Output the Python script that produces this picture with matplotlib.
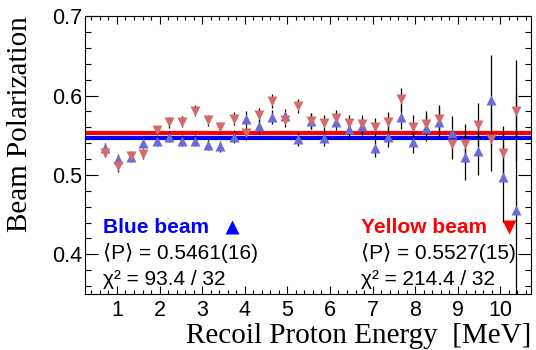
import matplotlib
matplotlib.use("Agg")
from matplotlib import pyplot as plt
from matplotlib.ticker import MultipleLocator

# recoil proton energy bins [MeV]
energy = [0.72, 1.02, 1.32, 1.62, 1.93, 2.23, 2.53, 2.83, 3.13, 3.43, 3.74,
          4.04, 4.34, 4.64, 4.94, 5.24, 5.55, 5.85, 6.15, 6.45, 6.75, 7.05,
          7.36, 7.66, 7.96, 8.26, 8.56, 8.86, 9.17, 9.47, 9.77, 10.07, 10.37]

blue_pol = [0.534, 0.520, 0.522, 0.540, 0.543, 0.548, 0.543, 0.543, 0.538, 0.536, 0.548,
            0.571, 0.561, 0.573, 0.574, 0.545, 0.568, 0.547, 0.567, 0.558, 0.561, 0.534,
            0.548, 0.573, 0.542, 0.559, 0.567, 0.553, 0.522, 0.530, 0.594, 0.497, 0.456]
blue_err = [0.006, 0.006, 0.006, 0.006, 0.006, 0.007, 0.007, 0.007, 0.007, 0.007, 0.008,
            0.009, 0.009, 0.009, 0.009, 0.009, 0.010, 0.010, 0.010, 0.011, 0.011, 0.012,
            0.013, 0.015, 0.015, 0.016, 0.019, 0.021, 0.028, 0.030, 0.057, 0.056, 0.147]

yellow_pol = [0.528, 0.511, 0.524, 0.526, 0.556, 0.566, 0.567, 0.581, 0.569, 0.560, 0.571,
              0.553, 0.575, 0.593, 0.569, 0.587, 0.568, 0.565, 0.572, 0.565, 0.564, 0.560,
              0.566, 0.595, 0.560, 0.564, 0.570, 0.539, 0.539, 0.563, 0.545, 0.528, 0.581]
yellow_err = [0.006, 0.007, 0.006, 0.006, 0.006, 0.007, 0.007, 0.007, 0.007, 0.007, 0.008,
              0.009, 0.009, 0.009, 0.009, 0.009, 0.010, 0.010, 0.010, 0.011, 0.011, 0.012,
              0.013, 0.014, 0.015, 0.016, 0.018, 0.019, 0.025, 0.027, 0.040, 0.034, 0.064]

blue_mean = 0.5461
yellow_mean = 0.5527

plt.rcParams['font.family'] = ['Liberation Sans', 'DejaVu Sans']

fig = plt.figure(figsize=(5.36, 3.5), dpi=100)
ax = fig.add_axes([0.1586, 0.16, 0.8321, 0.794])

# fitted averages
ax.axhline(yellow_mean, color='#ff0000', lw=3.0, zorder=2)
ax.axhline(blue_mean, color='#0000ff', lw=3.0, zorder=2)

# error bars
ax.errorbar(energy, blue_pol, yerr=blue_err, fmt='none', ecolor='black', elinewidth=0.9, zorder=3)
ax.errorbar(energy, yellow_pol, yerr=yellow_err, fmt='none', ecolor='black', elinewidth=0.9, zorder=3)

# markers
ax.plot(energy, blue_pol, '^', color='#6b6bd6', ms=6.5, mec='none', zorder=4)
ax.plot(energy, yellow_pol, 'v', color='#d46a6a', ms=6.5, mec='none', zorder=4)

ax.set_xlim(0.25, 10.72)
ax.set_ylim(0.35, 0.70)

ax.xaxis.set_major_locator(MultipleLocator(1))
ax.xaxis.set_minor_locator(MultipleLocator(0.2))
ax.yaxis.set_minor_locator(MultipleLocator(0.02))
ax.set_yticks([0.4, 0.5, 0.6, 0.7])
ax.set_yticklabels(['0.4', '0.5', '0.6', '0.7'])

ax.tick_params(axis='both', which='both', direction='in', top=True, right=True,
               labelsize=15.5, width=0.8)
ax.tick_params(axis='y', which='major', length=9.5, pad=2)
ax.tick_params(axis='y', which='minor', length=4.5)
ax.tick_params(axis='x', which='major', length=6, pad=4)
ax.tick_params(axis='x', which='minor', length=3)
for sp in ax.spines.values():
    sp.set_linewidth(0.8)

ax.set_xlabel('Recoil Proton Energy  [MeV]', family='Liberation Serif', fontsize=21, loc='right')
ax.set_ylabel('Beam Polarization', family='Liberation Serif', fontsize=21, loc='top')
ax.xaxis.set_label_coords(1.0, -0.105)
ax.yaxis.set_label_coords(-0.117, 1.0)

# legend-like annotations
ax.text(0.68, 0.4264, 'Blue beam', color='#0000ff', fontsize=15, fontweight='bold', va='baseline')
ax.plot([3.71], [0.4344], '^', color='#0000ff', ms=10, mec='none')
ax.text(0.68, 0.3937, '\u27e8P\u27e9 = 0.5461(16)', fontsize=15, va='baseline')
ax.text(0.68, 0.3613, '\u03c7\u00b2 = 93.4 / 32', fontsize=15, va='baseline')

ax.text(6.72, 0.4264, 'Yellow beam', color='#ff0000', fontsize=15, fontweight='bold', va='baseline')
ax.plot([10.2], [0.4344], 'v', color='#ff0000', ms=10, mec='none')
ax.text(6.72, 0.3937, '\u27e8P\u27e9 = 0.5527(15)', fontsize=15, va='baseline')
ax.text(6.72, 0.3613, '\u03c7\u00b2 = 214.4 / 32', fontsize=15, va='baseline')

fig.savefig('out.png', dpi=100)
